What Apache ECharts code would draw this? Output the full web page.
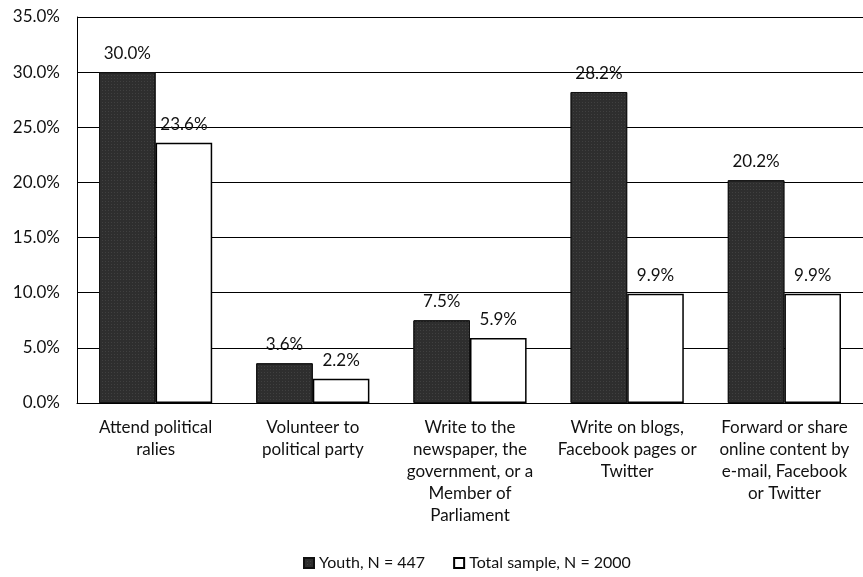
<!DOCTYPE html>
<html>
<head>
<meta charset="utf-8">
<script src="https://cdn.jsdelivr.net/npm/echarts@6/dist/echarts.min.js"></script>
<style>
  html, body { margin: 0; padding: 0; background: #fff; }
  #chart { width: 863px; height: 577px; }
</style>
</head>
<body>
<div id="chart"></div>
<script>
// Political participation activities
const categories = [
  'Attend political\nralies',
  'Volunteer to\npolitical party',
  'Write to the\nnewspaper, the\ngovernment, or a\nMember of\nParliament',
  'Write on blogs,\nFacebook pages or\nTwitter',
  'Forward or share\nonline content by\ne-mail, Facebook\nor Twitter'
];
const youth = [30.0, 3.6, 7.5, 28.2, 20.2];
const totalSample = [23.6, 2.2, 5.9, 9.9, 9.9];
const seriesNames = ['Youth, N = 447', 'Total sample, N = 2000'];

const font = 'Lato, "Open Sans", sans-serif';
const fs = 17;
const chart = echarts.init(document.getElementById('chart'));

const labelCfg = {
  show: true,
  position: 'top',
  distance: 10,
  color: '#111',
  fontFamily: font,
  fontSize: fs,
  formatter: p => p.value.toFixed(1) + '%'
};

chart.setOption({
  animation: false,
  backgroundColor: '#fff',
  grid: { left: 77, top: 17, width: 795, height: 386, containLabel: false },
  legend: {
    bottom: 1,
    left: 298,
    itemWidth: 10,
    itemHeight: 10,
    itemGap: 28,
    textStyle: { fontFamily: font, fontSize: 16, color: '#111' },
    data: [
      { name: seriesNames[0], icon: 'rect' },
      { name: seriesNames[1], icon: 'rect' }
    ]
  },
  xAxis: {
    type: 'category',
    data: categories,
    axisLine: { lineStyle: { color: '#000', width: 1 } },
    axisTick: { show: false },
    axisLabel: {
      interval: 0,
      margin: 14,
      lineHeight: 22,
      fontFamily: font,
      fontSize: fs,
      color: '#111',
      align: 'center'
    }
  },
  yAxis: {
    type: 'value',
    min: 0,
    max: 35,
    interval: 5,
    axisLine: { show: true, lineStyle: { color: '#000', width: 1 } },
    axisTick: { show: false },
    splitLine: { lineStyle: { color: '#000', width: 1 } },
    axisLabel: {
      margin: 17,
      fontFamily: font,
      fontSize: fs,
      color: '#111',
      formatter: v => v.toFixed(1) + '%'
    }
  },
  series: [
    {
      name: seriesNames[0],
      type: 'bar',
      data: youth,
      barGap: '0%',
      barCategoryGap: '28%',
      itemStyle: {
        color: '#2e2e2e',
        borderColor: '#111',
        borderWidth: 1,
        decal: {
          symbol: 'rect',
          symbolSize: 0.5,
          color: 'rgba(255,255,255,0.35)',
          dashArrayX: [1, 2],
          dashArrayY: [1, 2],
          rotation: 0
        }
      },
      label: labelCfg
    },
    {
      name: seriesNames[1],
      type: 'bar',
      data: totalSample,
      itemStyle: { color: '#fff', borderColor: '#000', borderWidth: 1.5 },
      label: labelCfg
    }
  ]
});
</script>
</body>
</html>
